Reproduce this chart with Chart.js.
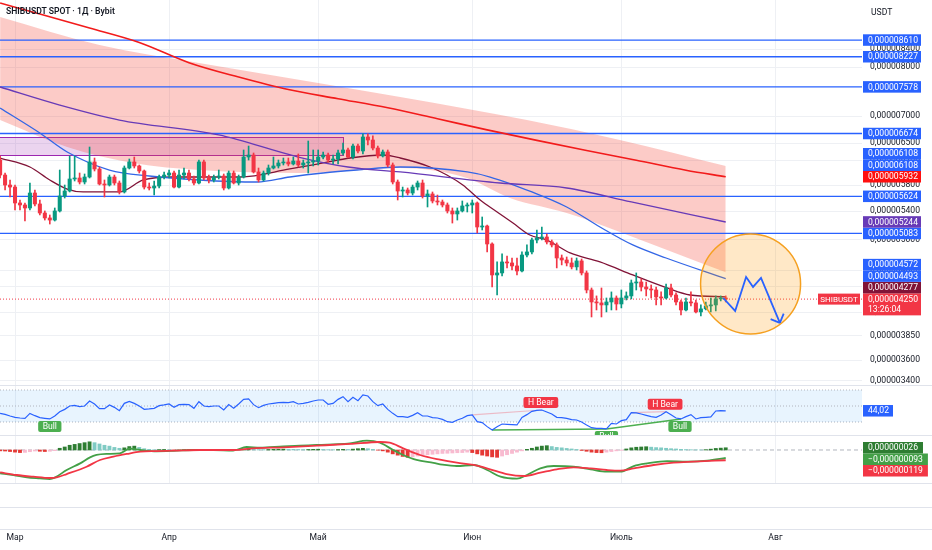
<!DOCTYPE html>
<html>
<head>
<meta charset="utf-8">
<script src="https://cdn.jsdelivr.net/npm/chart.js@4.4.1/dist/chart.umd.min.js"></script>
<style>
  body { margin: 0; background: #fff; width: 932px; height: 550px; overflow: hidden; font-family: Roboto, sans-serif; }
  canvas { position: absolute; left: 0; }
  .sep { position: absolute; left: 0; width: 932px; height: 1px; background: #e0e3eb; }
  #title { position: absolute; left: 6px; top: 6px; font: 600 8.6px Roboto, sans-serif; color: #131722; }
  #unit { position: absolute; left: 871px; top: 7px; font: 8.6px Roboto, sans-serif; color: #131722; }
</style>
</head>
<body>
<canvas id="price" width="932" height="385" style="top:0"></canvas>
<canvas id="rsi" width="932" height="50" style="top:385px"></canvas>
<canvas id="macd" width="932" height="48" style="top:435px"></canvas>
<canvas id="axis" width="932" height="67" style="top:483px"></canvas>
<div class="sep" style="top:385px"></div>
<div class="sep" style="top:435px"></div>
<div class="sep" style="top:483px"></div>
<div class="sep" style="top:507px"></div>
<div class="sep" style="top:529px"></div>
<div id="title">SHIBUSDT SPOT · 1Д · Bybit</div>
<div id="unit">USDT</div>
<script>
// prices and MACD values are kept in nano-USDT (1e-9)
const UNIT = 1e-9;
// day 0 = 1 March, first candle is 26 Feb
const FIRST_DAY = -3;
const X_MIN = -3.02, X_MAX = 170.42;
const MONTH_DAYS = [0, 31, 61, 92, 122, 153];
const MONTH_NAMES = ['Мар', 'Апр', 'Май', 'Июн', 'Июль', 'Авг'];
const PRICE_TICKS = [8400, 8000, 7000, 6500, 6200, 5800, 5400, 5000, 4600, 4400, 4100, 3850, 3600, 3400];

const OPEN = [6209,5960,5800,5768,5523,5493,5448,5675,5508,5374,5302,5272,5404,5629,5706,5896,5912,5848,5928,6176,6059,5816,5800,5928,5832,5691,6075,6176,6109,6026,5768,5753,5784,5928,5960,5993,5768,5960,5993,5896,5832,6176,5912,5880,5928,5944,5753,5993,5832,5928,6260,6294,6010,5880,5993,6075,6109,6159,6176,6142,6192,6125,6159,6176,6192,6260,6294,6209,6226,6329,6381,6260,6450,6364,6611,6557,6415,6277,6346,6125,5848,5706,5722,5675,5768,5832,5629,5660,5553,5538,5493,5404,5360,5404,5478,5493,5523,5173,5187,4939,4539,4564,4703,4690,4652,4589,4793,4833,4993,5020,5034,4966,4926,4754,4728,4690,4640,4716,4564,4357,4217,4206,4183,4217,4263,4194,4263,4287,4441,4453,4393,4369,4357,4275,4263,4381,4298,4217,4126,4217,4206,4104,4138,4172,4183,4252,4263];
const HIGH = [6277,5993,5880,5800,5568,5523,5832,5722,5568,5404,5345,5448,6042,5800,6277,6277,5993,5977,6433,6243,6092,5880,5960,5960,5864,6109,6226,6260,6125,6042,5832,5864,5960,6010,6042,6026,6042,6075,6042,5944,6209,6209,5960,5960,6042,5977,6026,6026,5960,6381,6450,6329,6075,6026,6125,6260,6209,6243,6243,6260,6312,6209,6539,6381,6381,6346,6329,6294,6381,6503,6415,6486,6486,6666,6666,6630,6450,6381,6381,6159,5880,5768,5753,5800,5864,5880,5722,5691,5644,5568,5523,5448,5448,5553,5523,5568,5538,5316,5201,4953,4703,4807,4780,4754,4754,4833,4926,5020,5131,5173,5075,4993,4953,4793,4767,4754,4754,4741,4589,4381,4287,4381,4263,4334,4287,4357,4334,4477,4564,4490,4453,4417,4393,4334,4429,4429,4322,4240,4263,4334,4240,4183,4217,4263,4287,4287,4287];
const LOW = [5912,5722,5614,5418,5418,5258,5418,5478,5345,5272,5215,5258,5389,5598,5691,5864,5816,5816,5912,6026,5800,5614,5784,5800,5660,5675,6059,6075,5993,5737,5722,5644,5753,5896,5912,5753,5753,5896,5864,5800,5816,5880,5832,5848,5896,5722,5737,5816,5800,5912,6209,5993,5848,5864,5960,6059,6075,6125,6109,6125,6092,6075,5993,6109,6125,6226,6176,6142,6142,6294,6243,6226,6329,6312,6468,6381,6243,6260,6092,5816,5568,5614,5644,5644,5722,5598,5463,5523,5493,5463,5374,5229,5272,5389,5389,5374,5089,5131,4833,4393,4298,4527,4627,4601,4539,4576,4767,4807,4953,4993,4939,4899,4627,4665,4652,4614,4601,4539,4322,4048,4126,4048,4104,4126,4126,4149,4240,4252,4357,4345,4287,4263,4183,4183,4252,4275,4183,4070,4115,4172,4093,4059,4126,4104,4115,4229,4217];
const CLOSE = [5960,5800,5768,5523,5493,5448,5675,5508,5374,5302,5272,5404,5629,5706,5896,5912,5848,5928,6176,6059,5816,5800,5928,5832,5691,6075,6176,6109,6026,5768,5753,5784,5928,5960,5993,5768,5960,5993,5896,5832,6176,5912,5880,5928,5944,5753,5993,5832,5928,6260,6294,6010,5880,5993,6075,6109,6159,6176,6142,6192,6125,6159,6176,6192,6260,6294,6209,6226,6329,6381,6260,6450,6364,6611,6557,6415,6277,6346,6125,5848,5706,5722,5675,5768,5832,5629,5660,5553,5538,5493,5404,5360,5404,5478,5493,5523,5173,5187,4939,4539,4564,4703,4690,4652,4589,4793,4833,4993,5020,5034,4966,4926,4754,4728,4690,4640,4716,4564,4357,4217,4206,4183,4217,4263,4194,4263,4287,4441,4453,4393,4369,4357,4275,4263,4381,4298,4217,4126,4217,4206,4104,4138,4172,4183,4252,4263,4250];
const TIMER = '13:26:04';

// moving averages and band, [day, price]
const MA_RED = [[-3,9524],[5,9243],[15,8897],[25,8554],[35,8096],[45,7785],[55,7524],[65,7338],[75,7158],[85,6947],[95,6740],[105,6550],[115,6373],[125,6206],[135,6039],[143,5932]];
const MA_PURPLE = [[-3,7576],[9,7213],[21,6924],[41,6648],[57,6260],[67,6092],[77.5,6010],[97.6,5832],[111,5753],[124,5538],[143,5244]];
const MA_BLUE = [[-3,7154],[5,6683],[10.5,6346],[19,6042],[27,5944],[37,5880],[48.7,5848],[55.3,5928],[62,5993],[68.8,6042],[77.5,6092],[91,6010],[95.6,5928],[104,5691],[111,5463],[117.7,5173],[124.3,4926],[131,4754],[143,4493]];
const MA_MAROON = [[-3,6243],[3,6092],[7,5880],[10.5,5737],[13.7,5691],[21,5691],[25.8,5880],[31.8,5928],[45.3,5928],[55.3,6059],[62,6159],[67.4,6243],[74,6294],[77.5,6243],[83.5,6092],[86.9,5960],[90.1,5800],[93.6,5568],[97,5389],[100.2,5229],[103.6,5061],[107,4993],[111.7,4820],[117.7,4703],[124.3,4539],[131.2,4381],[135.8,4298],[143,4277]];
const BAND_UPPER = [[-3,9168],[17,8494],[37,8087],[61,7658],[77.5,7372],[103,6924],[121.7,6557],[143,6108]];
const BAND_LOWER = [[-3,6924],[10.5,6433],[23.7,6159],[37.2,6042],[57.3,5993],[77.5,6075],[90.9,5912],[99.6,5598],[111,5374],[121.7,5103],[131.2,4859],[143,4572]];

const LEVELS = [8610, 8227, 7578, 6674, 5624, 5083];
const BOX_END_DAY = 66, BOX_TOP = 6611, BOX_BOTTOM = 6294;
const FOCUS_DAY = 148, FOCUS_PRICE = 4430;
const PROJ_DAYS = [142.5, 144.9, 147.1, 148.5, 150.1, 153.9];
const PROJ_PRICES = [4263, 4115, 4515, 4393, 4502, 3983];

const RSI = [40.8,39.6,37.5,35.8,35.0,34.6,40.8,37.9,35.4,34.6,33.8,37.5,42.9,45.8,50.0,50.8,49.2,50.0,56.3,52.5,46.7,46.7,51.3,48.3,44.2,53.3,55.8,53.3,50.0,45.8,46.3,47.1,50.4,51.3,52.5,48.3,51.7,52.1,51.7,47.1,55.4,50.0,49.2,50.0,50.0,45.0,51.7,47.1,52.5,58.3,58.8,51.7,47.9,50.8,52.5,53.3,54.2,54.6,54.2,55.4,52.5,53.3,54.6,56.3,57.5,57.5,52.1,53.3,58.3,61.7,55.4,60.8,56.7,63.8,62.5,55.4,50.4,52.5,45.8,40.8,36.7,36.7,35.8,38.3,41.7,37.5,37.5,35.4,35.0,33.3,30.4,29.6,32.5,34.6,37.9,38.8,30.4,29.2,24.2,20.0,24.2,27.5,27.1,26.7,26.3,35.8,39.2,43.3,44.6,45.0,42.5,40.0,35.8,35.4,34.6,32.9,32.5,30.0,26.3,22.9,22.1,22.1,21.3,28.3,27.5,31.7,32.9,41.7,41.3,40.0,38.3,36.7,35.8,38.8,42.9,39.2,35.0,33.8,36.7,39.2,33.8,35.4,35.8,36.3,43.8,44.2,44.02];
const RSI_UPPER = 70, RSI_MID = 50, RSI_LOWER = 30;
const SIGNAL_DAYS = [7, 105.8, 119, 130.8, 133.8];
const SIGNAL_TEXT = ['Bull', 'H Bear', 'Bull', 'H Bear', 'Bull'];
const BULL_LINES = [[96, 119], [119, 134]];
const BEAR_LINES = [[92, 106], [124, 131]];

const MACD_LINE = [[-3,-270],[-0.3,-290],[2.4,-317],[5,-329],[7,-337],[8,-321],[10.4,-232],[13.1,-155],[15.1,-85],[16.4,-58],[18.4,-46],[21.1,-39],[23.1,15],[25.2,0],[28.5,-15],[31.9,-10],[35.9,0],[39.9,0],[43.9,-6],[46.6,35],[49.3,27],[54,42],[57.3,50],[60.7,58],[64,66],[67.4,77],[70.8,108],[73.4,85],[76.1,0],[78.1,-58],[80.8,-116],[84.2,-150],[86,-170],[88.9,-186],[92.3,-174],[95,-232],[97.7,-310],[101,-333],[103,-290],[105.7,-213],[108.4,-186],[112.4,-194],[115.8,-224],[119.1,-252],[121.8,-252],[124.5,-186],[127.2,-155],[131.2,-128],[135.2,-135],[139.3,-124],[143,-93]];
const SIGNAL_LINE = [[-3,-260],[0.3,-290],[3.7,-310],[7,-325],[8.4,-317],[10.4,-279],[14.4,-194],[17.1,-116],[19.8,-77],[22.5,-46],[25.2,-19],[28.5,-12],[31.9,-8],[37.2,0],[43.9,0],[47.9,19],[54,31],[60.7,50],[67.4,70],[73.4,93],[75.4,85],[78.1,19],[81.5,-58],[85.5,-112],[88.9,-147],[92.3,-174],[95.6,-224],[98.9,-279],[102.3,-302],[105.7,-263],[109,-224],[112.4,-201],[115.8,-213],[119.1,-232],[121.8,-240],[124.5,-213],[128.5,-174],[132.5,-147],[136.6,-135],[143,-119]];
const HIST = [-10,-12,-18,-25,-30,-28,-20,-12,-15,-18,-15,-8,20,35,55,65,75,85,95,85,70,55,45,30,20,25,40,45,30,15,8,3,5,6,4,-2,-3,2,3,-2,2,1,-1,-2,-3,-4,-3,-2,4,10,14,10,5,4,6,8,9,10,9,8,6,5,6,8,9,7,4,3,5,8,6,10,15,19,15,8,-2,-10,-25,-45,-60,-75,-85,-80,-70,-62,-55,-50,-45,-40,-38,-35,-32,-30,-25,-30,-45,-60,-70,-80,-85,-70,-55,-40,-25,-10,8,20,35,45,50,40,30,25,18,12,6,-5,-15,-25,-30,-32,-25,-18,-10,-4,12,25,32,35,38,33,28,25,20,15,12,8,5,3,2,1,4,10,18,22,26];

const GREEN = '#089981', RED = '#f23645', BLUE = '#2962ff';
const FONT = { family: 'Roboto, sans-serif', size: 8.6 };
const days = CLOSE.map((_, k) => FIRST_DAY + k);
const last = a => a[a.length - 1];
const pts = a => a.map(p => ({ x: p[0], y: p[1] }));
const flat = v => [{ x: X_MIN, y: v }, { x: X_MAX, y: v }];
const fmt = v => (v * UNIT).toFixed(9).replace('.', ',').replace('-', '\u2212');

function xAxis() {
  return {
    type: 'linear', min: X_MIN, max: X_MAX, offset: false,
    afterBuildTicks: s => { s.ticks = MONTH_DAYS.map(v => ({ value: v })); },
    ticks: { display: false },
    grid: { color: '#eef0f4', drawTicks: false, offset: false },
    border: { display: false }
  };
}
function fitRight(s) { s.width = 70; s.paddingTop = 0; s.paddingBottom = 0; }

// smooth line by default, straight segments when passed tension 0
function line(data, color, width, extra) {
  const ds = Object.assign({ type: 'line', data, borderColor: color, borderWidth: width, pointRadius: 0,
    tension: 0.35, fill: false }, extra || {});
  ds.cubicInterpolationMode = ds.tension === 0 ? 'default' : 'monotone';
  return ds;
}

// colored value tags on the right axis
function drawTags(chart, tags, pushUp) {
  const { ctx } = chart, y = chart.scales.y, left = chart.chartArea.right;
  const H = 11.5;
  const items = tags.map(t => ({ ...t, top: y.getPixelForValue(t.value) - H / 2, h: t.sub ? 22 : H }));
  if (pushUp) {
    items.sort((a, b) => b.top - a.top);
    let lim = Infinity;
    items.forEach(it => { if (it.top + it.h > lim) it.top = lim - it.h; lim = it.top; });
  } else {
    items.sort((a, b) => a.top - b.top);
    let lim = -Infinity;
    items.forEach(it => { if (it.top < lim) it.top = lim; lim = it.top + it.h; });
  }
  ctx.save();
  ctx.font = '8.6px Roboto, sans-serif';
  ctx.textBaseline = 'middle';
  items.forEach(it => {
    const w = it.w || ctx.measureText(it.text).width + 10;
    ctx.fillStyle = it.bg;
    ctx.fillRect(left + 1, it.top, w, it.h);
    ctx.fillStyle = '#fff';
    ctx.fillText(it.text, left + 6, it.top + H / 2 + 0.5);
    if (it.sub) ctx.fillText(it.sub, left + 6, it.top + H / 2 + 10.5);
  });
  ctx.restore();
}

const baseOptions = () => ({
  responsive: false, animation: false, devicePixelRatio: 1,
  layout: { padding: 0, autoPadding: false },
  plugins: { legend: { display: false }, tooltip: { enabled: false } }
});

// ---------- price pane ----------
const priceDatasets = [
  line(pts(BAND_UPPER), 'rgba(0,0,0,0)', 0, { fill: '+1', backgroundColor: 'rgba(244,67,54,0.28)', order: 20 }),
  line(pts(BAND_LOWER), 'rgba(0,0,0,0)', 0, { order: 21 }),
  ...LEVELS.map(v => line(flat(v), BLUE, 1.3, { tension: 0, order: 15 })),
  line(flat(last(CLOSE)), RED, 1, { tension: 0, borderDash: [1, 2], order: 14 }),
  line(pts(MA_RED), '#f21b1b', 1.6, { order: 10 }),
  line(pts(MA_PURPLE), '#673ab7', 1.3, { order: 10 }),
  line(pts(MA_BLUE), '#3366e6', 1.3, { order: 10 }),
  line(pts(MA_MAROON), '#801337', 1.3, { order: 10 }),
  { type: 'bar', data: days.map((d, k) => ({ x: d, y: [LOW[k], HIGH[k]] })),
    backgroundColor: days.map((d, k) => CLOSE[k] >= OPEN[k] ? GREEN : RED),
    barThickness: 1, grouped: false, order: 6 },
  { type: 'bar', data: days.map((d, k) => ({ x: d, y: [OPEN[k], CLOSE[k]] })),
    backgroundColor: days.map((d, k) => CLOSE[k] >= OPEN[k] ? GREEN : RED),
    barThickness: 3.4, minBarLength: 1, grouped: false, order: 5 },
  { type: 'bubble', data: [{ x: FOCUS_DAY, y: FOCUS_PRICE, r: 50 }],
    backgroundColor: 'rgba(255,152,0,0.22)', borderColor: '#f5a020', borderWidth: 1.5, order: 3 },
  line(PROJ_DAYS.map((d, k) => ({ x: d, y: PROJ_PRICES[k] })), BLUE, 1.8, { tension: 0, label: 'proj', order: 1 })
];

const priceTags = [
  ...LEVELS.map(v => ({ value: v, bg: BLUE })),
  { value: last(BAND_UPPER)[1], bg: BLUE },
  { value: last(BAND_UPPER)[1], bg: BLUE },
  { value: last(MA_RED)[1], bg: '#ff0f0f' },
  { value: last(MA_PURPLE)[1], bg: '#673ab7' },
  { value: last(BAND_LOWER)[1], bg: BLUE },
  { value: last(MA_BLUE)[1], bg: BLUE },
  { value: last(MA_MAROON)[1], bg: '#801337' },
  { value: last(CLOSE), bg: RED, sub: TIMER }
].map(t => ({ ...t, text: fmt(t.value), w: 58 }));

const priceDecor = {
  id: 'priceDecor',
  beforeDatasetsDraw(chart) {
    const { ctx, scales: { x, y } } = chart;
    const x0 = x.getPixelForValue(X_MIN) - 2, x1 = Math.round(x.getPixelForValue(BOX_END_DAY)) + 0.5;
    const y0 = Math.round(y.getPixelForValue(BOX_TOP)) + 0.5, y1 = Math.round(y.getPixelForValue(BOX_BOTTOM)) + 0.5;
    ctx.save();
    ctx.fillStyle = 'rgba(156,39,176,0.2)';
    ctx.fillRect(x0, y0, x1 - x0, y1 - y0);
    ctx.strokeStyle = '#9c27b0';
    ctx.lineWidth = 1;
    ctx.strokeRect(x0, y0, x1 - x0, y1 - y0);
    ctx.restore();
  },
  afterDatasetsDraw(chart) {
    const { ctx } = chart;
    const idx = chart.data.datasets.findIndex(d => d.label === 'proj');
    const p = chart.getDatasetMeta(idx).data;
    const a = p[p.length - 2], b = p[p.length - 1];
    const ang = Math.atan2(b.y - a.y, b.x - a.x);
    ctx.save();
    ctx.strokeStyle = BLUE;
    ctx.lineWidth = 1.8;
    ctx.beginPath();
    [-1, 1].forEach(s => {
      ctx.moveTo(b.x, b.y);
      ctx.lineTo(b.x - 10 * Math.cos(ang + s * Math.PI / 4), b.y - 10 * Math.sin(ang + s * Math.PI / 4));
    });
    ctx.stroke();
    ctx.restore();
  },
  afterDraw(chart) {
    const { ctx } = chart;
    const py = chart.scales.y.getPixelForValue(last(CLOSE));
    const r = chart.chartArea.right;
    ctx.save();
    ctx.fillStyle = RED;
    ctx.fillRect(r - 44, py - 5.5, 42, 11);
    ctx.fillStyle = '#fff';
    ctx.font = '8px Roboto, sans-serif';
    ctx.textBaseline = 'middle';
    ctx.textAlign = 'center';
    ctx.fillText('SHIBUSDT', r - 23, py + 0.5);
    ctx.restore();
    drawTags(chart, priceTags, true);
  }
};

new Chart(document.getElementById('price'), {
  type: 'bar',
  data: { datasets: priceDatasets },
  options: Object.assign(baseOptions(), {
    scales: {
      x: xAxis(),
      y: {
        type: 'logarithmic', position: 'right', min: 3363, max: 9603, beginAtZero: false,
        afterBuildTicks: s => { s.ticks = PRICE_TICKS.map(v => ({ value: v })); },
        afterFit: fitRight,
        ticks: { autoSkip: false, padding: 8, color: '#131722', font: FONT, callback: v => fmt(v) },
        grid: { color: '#eef0f4', drawTicks: false },
        border: { display: false }
      }
    }
  }),
  plugins: [priceDecor]
});

// ---------- RSI pane ----------
const rsiAt = d => RSI[Math.round(d) - FIRST_DAY];
const rsiDecor = {
  id: 'rsiDecor',
  afterDatasetsDraw(chart) {
    const { ctx, scales: { x, y } } = chart;
    ctx.save();
    ctx.font = '8.6px Roboto, sans-serif';
    ctx.textBaseline = 'middle';
    ctx.textAlign = 'center';
    SIGNAL_DAYS.forEach((d, k) => {
      const text = SIGNAL_TEXT[k], bear = text.includes('Bear');
      const px = x.getPixelForValue(d), py = y.getPixelForValue(rsiAt(d));
      const w = ctx.measureText(text).width + 9, h = 11;
      const top = bear ? py - 2 - h : py + 2;
      ctx.fillStyle = bear ? RED : '#4caf50';
      ctx.beginPath();
      ctx.roundRect(px - w / 2, top, w, h, 2);
      ctx.fill();
      ctx.fillStyle = '#fff';
      ctx.fillText(text, px, top + h / 2 + 0.5);
    });
    ctx.restore();
  },
  afterDraw(chart) {
    drawTags(chart, [{ value: last(RSI), bg: BLUE, text: last(RSI).toFixed(2).replace('.', ','), w: 30 }], false);
  }
};

new Chart(document.getElementById('rsi'), {
  type: 'line',
  data: {
    datasets: [
      line(flat(RSI_UPPER), '#b2b5be', 1, { tension: 0, borderDash: [1, 2], fill: '+1', backgroundColor: 'rgba(33,150,243,0.1)', order: 20 }),
      line(flat(RSI_LOWER), '#b2b5be', 1, { tension: 0, borderDash: [1, 2], order: 21 }),
      line(flat(RSI_MID), '#b2b5be', 1, { tension: 0, borderDash: [1, 2], order: 19 }),
      ...BEAR_LINES.map(([a, b]) => line([{ x: a, y: rsiAt(a) }, { x: b, y: rsiAt(b) }], 'rgba(242,54,69,0.3)', 1.2, { tension: 0, order: 5 })),
      ...BULL_LINES.map(([a, b]) => line([{ x: a, y: rsiAt(a) }, { x: b, y: rsiAt(b) }], '#4caf50', 1.4, { tension: 0, order: 5 })),
      line(days.map((d, k) => ({ x: d, y: RSI[k] })), BLUE, 1.2, { tension: 0, order: 1 })
    ]
  },
  options: Object.assign(baseOptions(), {
    scales: {
      x: xAxis(),
      y: { type: 'linear', position: 'right', min: 13.75, max: 76.25, afterFit: fitRight,
        ticks: { display: false }, grid: { display: false }, border: { display: false } }
    }
  }),
  plugins: [rsiDecor]
});

// ---------- MACD pane ----------
const histColors = HIST.map((v, k) => {
  const prev = k ? HIST[k - 1] : v;
  if (v >= 0) return v >= prev ? '#2e7d32' : '#80cbc4';
  return v <= prev ? '#e53935' : '#f8bbd0';
});
const macdDecor = {
  id: 'macdDecor',
  afterDraw(chart) {
    drawTags(chart, [
      { value: last(HIST), bg: '#2e7d32', text: fmt(last(HIST)) },
      { value: last(MACD_LINE)[1], bg: '#43a047', text: fmt(last(MACD_LINE)[1]) },
      { value: last(SIGNAL_LINE)[1], bg: RED, text: fmt(last(SIGNAL_LINE)[1]) }
    ], false);
  }
};

new Chart(document.getElementById('macd'), {
  type: 'bar',
  data: {
    datasets: [
      line(flat(0), '#b2b5be', 1, { tension: 0, borderDash: [4, 3], order: 20 }),
      { type: 'bar', data: days.map((d, k) => ({ x: d, y: HIST[k] })), backgroundColor: histColors,
        barThickness: 3.2, grouped: false, order: 10 },
      line(pts(MACD_LINE), '#43a047', 1.8, { order: 2 }),
      line(pts(SIGNAL_LINE), '#f23645', 1.8, { order: 1 })
    ]
  },
  options: Object.assign(baseOptions(), {
    scales: {
      x: xAxis(),
      y: { type: 'linear', position: 'right', min: -383, max: 174, beginAtZero: false, afterFit: fitRight,
        ticks: { display: false }, grid: { display: false }, border: { display: false } }
    }
  }),
  plugins: [macdDecor]
});

// ---------- time axis ----------
new Chart(document.getElementById('axis'), {
  type: 'line',
  data: { datasets: [{ data: [] }] },
  options: Object.assign(baseOptions(), {
    layout: { padding: { bottom: 4 }, autoPadding: false },
    scales: {
      x: {
        type: 'linear', min: X_MIN, max: X_MAX,
        afterBuildTicks: s => { s.ticks = MONTH_DAYS.map(v => ({ value: v })); },
        afterFit: s => { s.paddingLeft = 0; s.paddingRight = 0; },
        ticks: { autoSkip: false, maxRotation: 0, padding: 3, color: '#131722', font: FONT,
          callback: v => MONTH_NAMES[MONTH_DAYS.indexOf(v)] },
        grid: { display: false }, border: { display: false }
      },
      y: { position: 'right', min: 0, max: 1, afterFit: fitRight,
        ticks: { display: false }, grid: { display: false }, border: { display: false } }
    }
  })
});
</script>
</body>
</html>
